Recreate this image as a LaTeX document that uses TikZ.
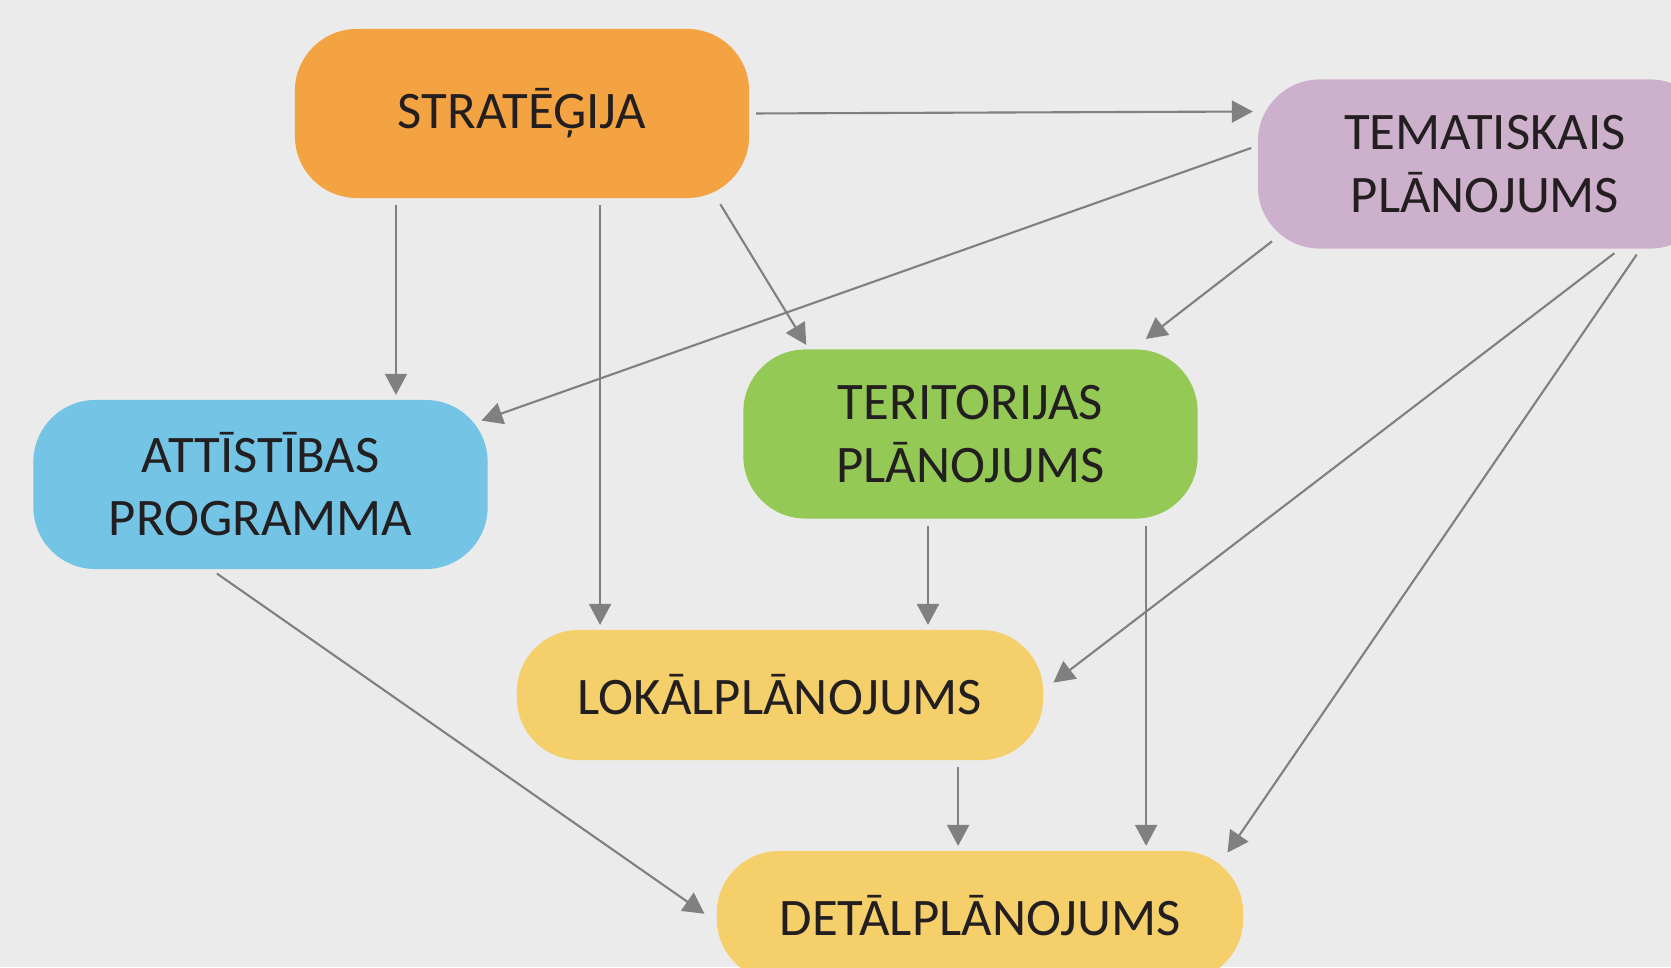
\documentclass[tikz,border=0pt]{standalone}
\usepackage{fontspec}
\setmainfont{Carlito}
\usetikzlibrary{arrows.meta,calc}
\definecolor{bgc}{HTML}{EBEBEB}
\definecolor{txtc}{HTML}{231F20}
\definecolor{arrc}{HTML}{808080}
\definecolor{stratc}{HTML}{F4A342}
\definecolor{tematc}{HTML}{CDB0CB}
\definecolor{teritc}{HTML}{94C955}
\definecolor{attistc}{HTML}{73C4E5}
\definecolor{planc}{HTML}{F4CF6A}
\tikzset{
    plan/.style={rounded corners=0.62cm,minimum width=4.54cm,minimum height=1.69cm,inner sep=0pt,align=center,text=txtc,font=\fontsize{15pt}{17.9pt}\selectfont},
    wide plan/.style={plan,minimum width=5.26cm,minimum height=1.30cm},
}

\begin{document}
\begin{tikzpicture}[x=0.01cm,y=-0.01cm,-{Triangle[length=0.21cm,width=0.22cm]},shorten >=0.04cm,shorten <=0.06cm,line width=0.6pt]
            \fill[bgc] (0,0) rectangle (1671,967);
            \useasboundingbox (0,0) rectangle (1671,967);

            \node[plan,fill=stratc] (strat) at (522,113.5) {STRATĒĢIJA};
            \node[plan,fill=tematc] (temat) at (1485,164) {TEMATISKAIS\\PLĀNOJUMS};
            \node[plan,fill=teritc] (terit) at (970.5,434) {TERITORIJAS\\PLĀNOJUMS};
            \node[plan,fill=attistc] (attist) at (260.5,484.5) {ATTĪSTĪBAS\\PROGRAMMA};
            \node[wide plan,fill=planc] (lokal) at (780,695) {LOKĀLPLĀNOJUMS};
            \node[wide plan,fill=planc] (detal) at (980,916) {DETĀLPLĀNOJUMS};

            \path[arrc]
                (strat.east) edge ([yshift=0.02cm]strat.east -| temat.west)
                ([yshift=0.18cm]temat.west) edge ([xshift=-0.11cm,yshift=-0.23cm]attist.north east)
                ([xshift=-1.26cm]strat.south) edge ([xshift=-1.26cm]strat.south |- attist.north)
                ([xshift=0.78cm]strat.south) edge ([xshift=0.78cm]strat.south |- lokal.north)
                ([xshift=-0.33cm]strat.south east) edge ([xshift=0.66cm]terit.north west)
                ([xshift=0.2cm,yshift=0.12cm]temat.south west) edge ([xshift=-0.56cm,yshift=0.07cm]terit.north east)
                ([xshift=1.34cm]temat.south) edge ([xshift=0.06cm,yshift=0.1cm]lokal.east)
                ([xshift=1.55cm]temat.south) edge ([xshift=-0.19cm,yshift=-0.06cm]detal.north east)
                ([xshift=-0.425cm]terit.south) edge ([xshift=-0.425cm]terit.south |- lokal.north)
                ([xshift=1.755cm]terit.south) edge ([xshift=1.755cm]terit.south |- detal.north)
                ([xshift=-0.485cm]attist.south) edge ([xshift=-0.08cm]detal.west)
                ([xshift=1.78cm]lokal.south) edge ([xshift=1.78cm]lokal.south |- detal.north)
                ;
        \end{tikzpicture}
\end{document}
